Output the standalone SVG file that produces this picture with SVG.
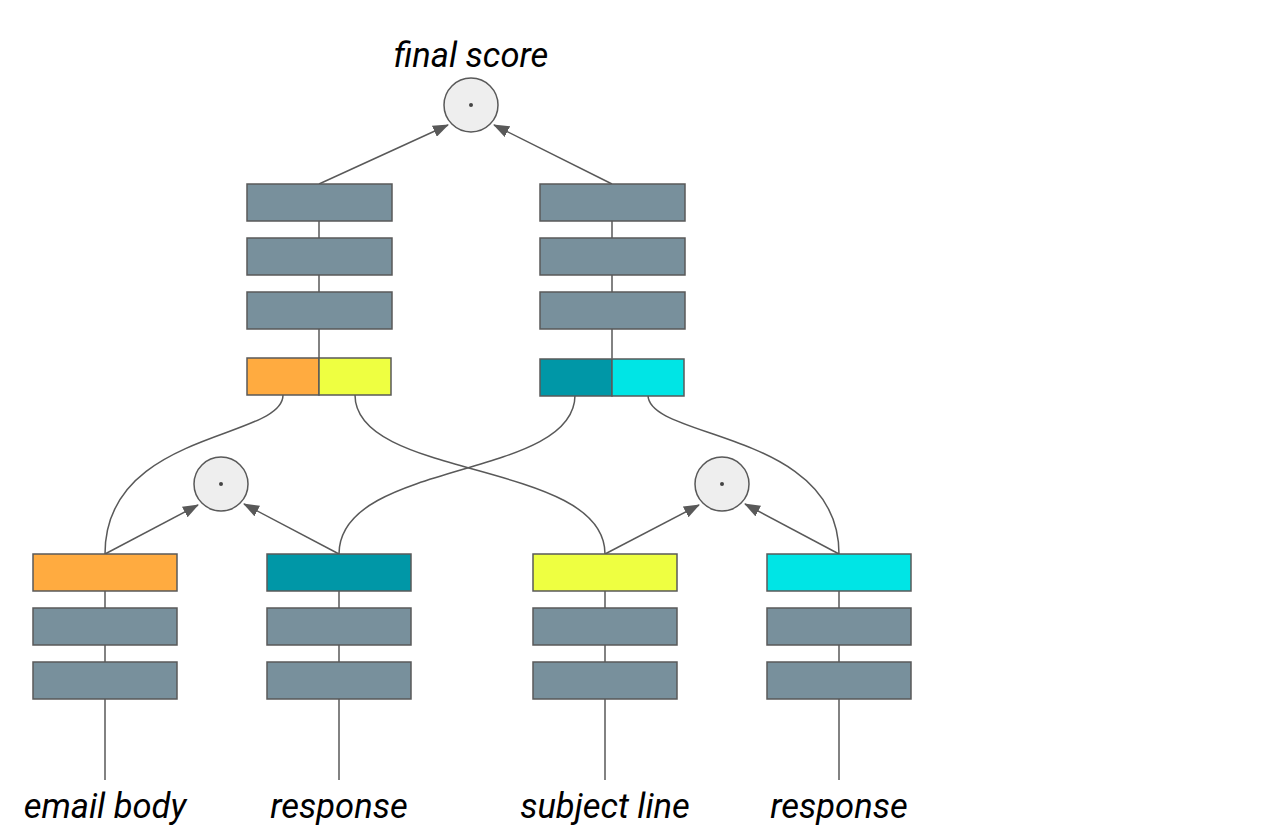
<svg xmlns="http://www.w3.org/2000/svg" width="1276" height="840" viewBox="0 0 1276 840">
<style>
.b{stroke:#595959;stroke-width:1.5}
.g{fill:#78909c}
.o{fill:#ffab40}
.y{fill:#eeff41}
.t{fill:#0097a7}
.c{fill:#00e5e5}
.n{fill:#eeeeee;stroke:#595959;stroke-width:1.5}
.d{fill:#444}
.l{fill:none;stroke:#595959;stroke-width:1.5}
.a{fill:none;stroke:#595959;stroke-width:1.5;marker-end:url(#ah)}
.tx{font-family:Roboto,"Liberation Sans",sans-serif;font-style:italic;font-size:34.5px;fill:#000;text-anchor:middle}
</style>
<defs>
<marker id="ah" viewBox="0 0 16 12" refX="15" refY="6" markerWidth="16" markerHeight="12" markerUnits="userSpaceOnUse" orient="auto">
<path d="M0,0 L16,6 L0,12 z" fill="#595959"/>
</marker>
</defs>
<rect width="1276" height="840" fill="#fff"/>
<g id="connectors">
<line class="l" x1="105" y1="780" x2="105" y2="554"/>
<line class="l" x1="339" y1="780" x2="339" y2="554"/>
<line class="l" x1="605" y1="780" x2="605" y2="554"/>
<line class="l" x1="839" y1="780" x2="839" y2="554"/>
<line class="l" x1="319" y1="184" x2="319" y2="358"/>
<line class="l" x1="612" y1="184" x2="612" y2="358"/>
<path class="l" d="M283,395 C283,440 105,430 105,554"/>
<path class="l" d="M355,395 C355,480 605,460 605,554"/>
<path class="l" d="M575,395 C575,480 339,460 339,554"/>
<path class="l" d="M648,395 C648,440 839,430 839,554"/>
<line class="a" x1="105" y1="554" x2="198" y2="505"/>
<line class="a" x1="339" y1="554" x2="244" y2="504"/>
<line class="a" x1="605" y1="554" x2="699" y2="505"/>
<line class="a" x1="839" y1="554" x2="745" y2="504"/>
<line class="a" x1="319" y1="184" x2="448" y2="125"/>
<line class="a" x1="612" y1="184" x2="494" y2="125"/>
</g>
<g id="final-score">
<circle class="n" cx="471" cy="105" r="27"/>
<circle class="d" cx="471" cy="105" r="2"/>
<text class="tx" x="471" y="67">final score</text>
</g>
<g id="dot-left">
<circle class="n" cx="221" cy="484" r="27"/>
<circle class="d" cx="221" cy="484" r="2"/>
</g>
<g id="dot-right">
<circle class="n" cx="722" cy="484" r="27"/>
<circle class="d" cx="722" cy="484" r="2"/>
</g>
<g id="stack-top-left">
<rect class="g b" x="247" y="184" width="145" height="37"/>
<rect class="g b" x="247" y="238" width="145" height="37"/>
<rect class="g b" x="247" y="292" width="145" height="37"/>
<rect class="o b" x="247" y="358" width="72" height="37"/>
<rect class="y b" x="319" y="358" width="72" height="37"/>
</g>
<g id="stack-top-right">
<rect class="g b" x="540" y="184" width="145" height="37"/>
<rect class="g b" x="540" y="238" width="145" height="37"/>
<rect class="g b" x="540" y="292" width="145" height="37"/>
<rect class="t b" x="540" y="359" width="72" height="37"/>
<rect class="c b" x="612" y="359" width="72" height="37"/>
</g>
<g id="email-body">
<rect class="o b" x="33" y="554" width="144" height="37"/>
<rect class="g b" x="33" y="608" width="144" height="37"/>
<rect class="g b" x="33" y="662" width="144" height="37"/>
<text class="tx" x="105" y="818">email body</text>
</g>
<g id="response-1">
<rect class="t b" x="267" y="554" width="144" height="37"/>
<rect class="g b" x="267" y="608" width="144" height="37"/>
<rect class="g b" x="267" y="662" width="144" height="37"/>
<text class="tx" x="339" y="818">response</text>
</g>
<g id="subject-line">
<rect class="y b" x="533" y="554" width="144" height="37"/>
<rect class="g b" x="533" y="608" width="144" height="37"/>
<rect class="g b" x="533" y="662" width="144" height="37"/>
<text class="tx" x="605" y="818">subject line</text>
</g>
<g id="response-2">
<rect class="c b" x="767" y="554" width="144" height="37"/>
<rect class="g b" x="767" y="608" width="144" height="37"/>
<rect class="g b" x="767" y="662" width="144" height="37"/>
<text class="tx" x="839" y="818">response</text>
</g>
</svg>
